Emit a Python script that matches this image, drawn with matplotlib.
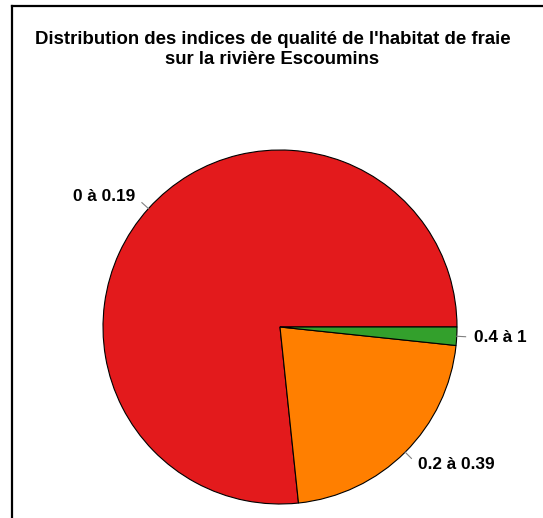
import matplotlib.pyplot as plt
from matplotlib.lines import Line2D
import numpy as np

# counts per class of habitat quality index
classes = ['0 à 0.19', '0.2 à 0.39', '0.4 à 1']
counts = [46, 13, 1]
colors = ['#E31A1C', '#FF7F00', '#33A02C']

W, H = 543, 518
fig = plt.figure(figsize=(W / 100, H / 100), dpi=100)
plt.rcParams['font.family'] = ['Liberation Sans', 'DejaVu Sans']

# pie centre and radius in pixels
cx, cy, r = 280, 327, 177
k = 1.5
ax = fig.add_axes([(cx - k * r) / W, (H - cy - k * r) / H, 2 * k * r / W, 2 * k * r / H])
ax.axis('off')

wedges, texts = ax.pie(counts, labels=classes, colors=colors, startangle=0,
                       counterclock=True, labeldistance=1.1, radius=1,
                       wedgeprops=dict(edgecolor='black', linewidth=0.8),
                       textprops=dict(fontsize=12.4, fontweight='bold', color='black'))
ax.set_xlim(-k, k)
ax.set_ylim(-k, k)
ax.set_aspect('equal')

# small tick lines like R pie()
for w in wedges:
    mid = np.deg2rad((w.theta1 + w.theta2) / 2)
    ax.plot([np.cos(mid), 1.05 * np.cos(mid)], [np.sin(mid), 1.05 * np.sin(mid)],
            color='gray', linewidth=0.8)

tx = 272.5 / W
fig.text(tx, 1 - 43.5 / H, "Distribution des indices de qualité de l'habitat de fraie",
         ha='center', va='baseline', fontsize=13.4, fontweight='bold')
fig.text(tx, 1 - 63.5 / H, "sur la rivière Escoumins",
         ha='center', va='baseline', fontsize=13.4, fontweight='bold')

# frame (partially cropped in the original screenshot)
fig.add_artist(Line2D([12 / W, 1], [1 - 6 / H, 1 - 6 / H], color='black', linewidth=1.6))
fig.add_artist(Line2D([12 / W, 12 / W], [0, 1 - 6 / H], color='black', linewidth=1.6))

fig.savefig('out.png', dpi=100)
